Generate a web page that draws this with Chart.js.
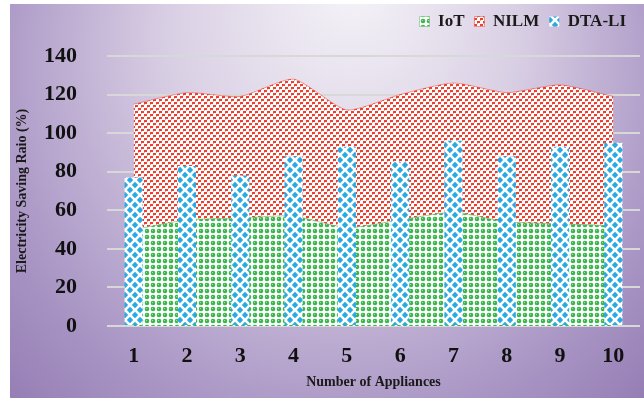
<!DOCTYPE html>
<html>
<head>
<meta charset="utf-8">
<script src="https://cdn.jsdelivr.net/npm/chart.js@4"></script>
<style>
  html, body { margin: 0; padding: 0; background: #fff; }
  #wrap { width: 644px; height: 402px; }
</style>
</head>
<body>
<div id="wrap"><canvas id="chart1" width="644" height="402"></canvas></div>
<script>
var appliances = ['1', '2', '3', '4', '5', '6', '7', '8', '9', '10'];
var iot = [50, 55, 56, 57, 51, 55, 59, 54, 53, 52];
var nilm = [65, 66, 63, 71, 61, 65, 67, 67, 72, 67];
var dtaLi = [77, 83, 78, 88, 93, 85, 96, 88, 93, 95];
var yTicks = [0, 20, 40, 60, 80, 100, 120, 140];

var SERIF = '"Liberation Serif", "Times New Roman", serif';

// small canvas patterns for the three series
function makePattern(w, h, draw) {
	var c = document.createElement('canvas');
	c.width = w; c.height = h;
	var g = c.getContext('2d');
	g.fillStyle = '#ffffff';
	g.fillRect(0, 0, w, h);
	draw(g);
	return document.createElement('canvas').getContext('2d').createPattern(c, 'repeat');
}

var greenDots = makePattern(6, 6, function (g) {
	g.fillStyle = '#3db54e';
	g.beginPath(); g.arc(3, 3, 2.3, 0, Math.PI * 2); g.fill();
	g.fillStyle = '#9ee0a6';
	g.fillRect(2, 2, 1, 1);
});
var redChecks = makePattern(6, 6, function (g) {
	g.fillStyle = '#ef3e2e';
	g.fillRect(0, 0, 3, 2);
	g.fillRect(3, 3, 3, 2);
	g.fillStyle = '#f7a095';
	g.fillRect(0, 2, 1, 1);
	g.fillRect(3, 5, 1, 1);
});
var blueDiamonds = makePattern(10, 10, function (g) {
	g.fillStyle = '#2aa9e2';
	function diamond(cx, cy) {
		g.beginPath();
		g.moveTo(cx, cy - 3.2); g.lineTo(cx + 3.2, cy); g.lineTo(cx, cy + 3.2); g.lineTo(cx - 3.2, cy);
		g.closePath(); g.fill();
	}
	diamond(5, 5);
	diamond(0, 0); diamond(10, 0); diamond(0, 10); diamond(10, 10);
});

var bgPlugin = {
	id: 'bg',
	beforeDraw: function (chart) {
		var c = chart.ctx, W = chart.width, H = chart.height;
		c.save();
		c.fillStyle = '#ffffff';
		c.fillRect(0, 0, W, H);
		var grd = c.createRadialGradient(W * 0.55, -20, 10, W * 0.5, H * 0.3, 480);
		grd.addColorStop(0, '#f4f2f7');
		grd.addColorStop(0.35, '#d9cfe4');
		grd.addColorStop(0.7, '#ab98c6');
		grd.addColorStop(1, '#8a70ab');
		c.fillStyle = grd;
		c.fillRect(10, 4, W - 10, H - 8);
		c.restore();
	}
};

// lift the legend up into the top band, above the plot area
var legendShift = {
	id: 'legendShift',
	afterLayout: function (chart) {
		var lg = chart.legend;
		if (!lg) return;
		lg.top -= 16; lg.bottom -= 16;
		lg.left -= 4; lg.right -= 4;
	}
};

var ctx = document.getElementById('chart1').getContext('2d');
new Chart(ctx, {
	data: {
		labels: appliances,
		datasets: [{
			type: 'line',
			label: 'IoT',
			data: iot,
			backgroundColor: greenDots,
			borderColor: 'rgba(120,190,120,0.6)',
			borderWidth: 1,
			pointRadius: 0,
			fill: 'origin',
			tension: 0.2,
			stack: 'area',
			order: 2
		}, {
			type: 'line',
			label: 'NILM',
			data: nilm,
			backgroundColor: redChecks,
			borderColor: 'rgba(238,59,43,0.5)',
			borderWidth: 1,
			pointRadius: 0,
			fill: '-1',
			tension: 0.2,
			stack: 'area',
			order: 2
		}, {
			type: 'bar',
			label: 'DTA-LI',
			data: dtaLi,
			backgroundColor: blueDiamonds,
			borderWidth: 0,
			barPercentage: 0.34,
			categoryPercentage: 1,
			stack: 'bars',
			order: 1
		}]
	},
	options: {
		responsive: false,
		animation: false,
		layout: { padding: { left: 10, right: 4, top: 4, bottom: 4 } },
		plugins: {
			tooltip: { enabled: false },
			legend: {
				position: 'top',
				align: 'end',
				labels: {
					sort: function (a, b) { return a.datasetIndex - b.datasetIndex; },
					boxWidth: 10,
					boxHeight: 10,
					padding: 10,
					color: '#1a1a1a',
					font: { family: SERIF, size: 17, weight: 'bold' }
				}
			}
		},
		scales: {
			x: {
				stacked: true,
				offset: true,
				afterFit: function (scale) { scale.height = 72; },
				grid: { display: false },
				border: { display: false },
				ticks: {
					color: '#111',
					padding: 9,
					font: { family: SERIF, size: 22, weight: 'bold' }
				},
				title: {
					display: true,
					text: 'Number of Appliances',
					color: '#1a1a1a',
					padding: { top: 2, bottom: 7 },
					font: { family: SERIF, size: 14, weight: 'bold' }
				}
			},
			y: {
				stacked: true,
				min: 0,
				max: 140,
				afterBuildTicks: function (scale) {
					scale.ticks = yTicks.map(function (v) { return { value: v }; });
				},
				afterFit: function (scale) { scale.width = 97; scale.paddingTop = 56; },
				grid: { color: '#d8d8d8', lineWidth: 2, drawTicks: false },
				border: { display: false },
				ticks: {
					color: '#111',
					padding: 30,
					font: { family: SERIF, size: 22, weight: 'bold' }
				},
				title: {
					display: true,
					text: 'Electricity Saving Raio (%)',
					color: '#1a1a1a',
					padding: { top: 4, bottom: 0 },
					font: { family: SERIF, size: 14, weight: 'bold' }
				}
			}
		}
	},
	plugins: [bgPlugin, legendShift]
});
</script>
</body>
</html>
